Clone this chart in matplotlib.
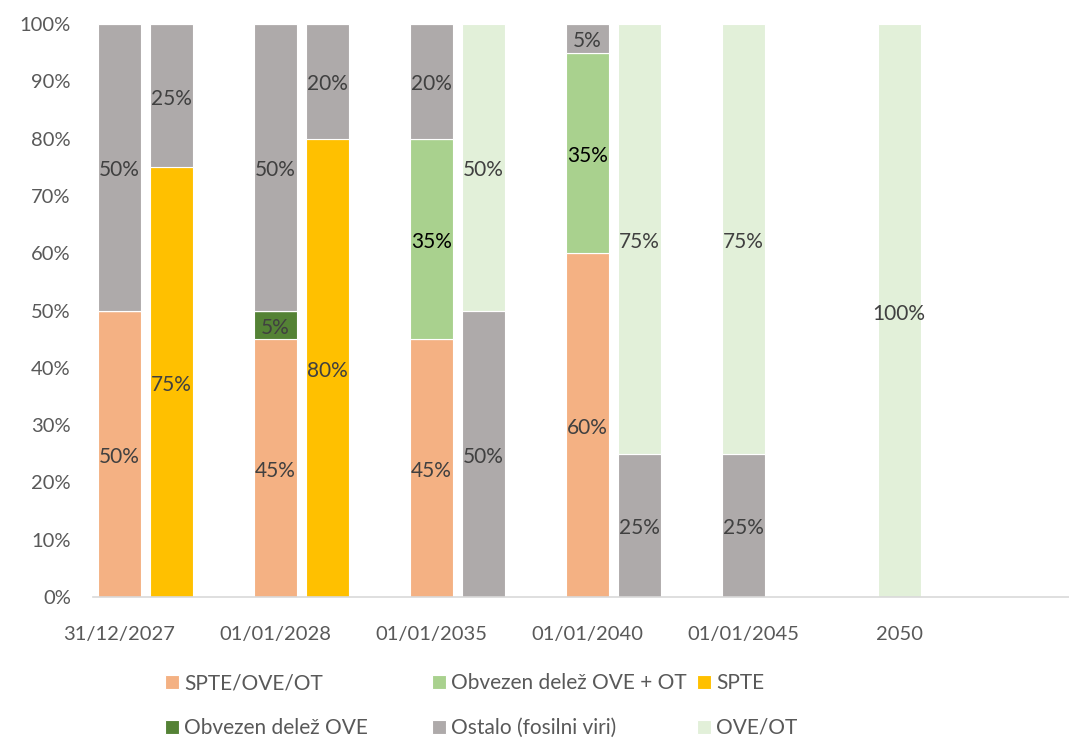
import numpy as np
import matplotlib
matplotlib.use("Agg")
import matplotlib.pyplot as plt
from matplotlib.transforms import offset_copy

plt.rcParams['font.family'] = ['Lato', 'DejaVu Sans']

dates = ['31/12/2027', '01/01/2028', '01/01/2035', '01/01/2040', '01/01/2045', '2050']

series = ['SPTE/OVE/OT', 'Obvezen delež OVE', 'Obvezen delež OVE + OT',
          'SPTE', 'Ostalo (fosilni viri)', 'OVE/OT']
colors = ['#F4B183', '#548235', '#A9D18E', '#FFC000', '#AEAAAA', '#E2F0D9']

# left bar of each date (percent)
left_spte_ove_ot = [50, 45, 45, 60, 0, 0]
left_obv_ove = [0, 5, 0, 0, 0, 0]
left_obv_ove_ot = [0, 0, 35, 35, 0, 0]
left_spte = [0, 0, 0, 0, 0, 0]
left_ostalo = [50, 50, 20, 5, 25, 0]
left_ove_ot = [0, 0, 0, 0, 75, 100]

# right bar of each date (percent)
right_spte_ove_ot = [0, 0, 0, 0, 0, 0]
right_obv_ove = [0, 0, 0, 0, 0, 0]
right_obv_ove_ot = [0, 0, 0, 0, 0, 0]
right_spte = [75, 80, 0, 0, 0, 0]
right_ostalo = [25, 20, 50, 25, 0, 0]
right_ove_ot = [0, 0, 50, 75, 0, 0]

left = [left_spte_ove_ot, left_obv_ove, left_obv_ove_ot, left_spte, left_ostalo, left_ove_ot]
right = [right_spte_ove_ot, right_obv_ove, right_obv_ove_ot, right_spte, right_ostalo, right_ove_ot]

fig = plt.figure(figsize=(10.69, 7.39), dpi=100)
ax = fig.add_axes([93 / 1069, 1 - 597 / 739, (1069 - 93) / 1069, (597 - 24) / 739])

x = np.arange(len(dates))
w = 0.276
xl = x + 0.17
xr = x + 0.504

txt_tr = offset_copy(ax.transData, fig=fig, y=-3, units='dots')
label_color = {2: 'black'}
handles = []
for stack, pos in [(left, xl), (right, xr)]:
    bottom = np.zeros(len(dates))
    for k, vals in enumerate(stack):
        vals = np.array(vals, dtype=float)
        bars = ax.bar(pos, vals, w, bottom=bottom, color=colors[k],
                      edgecolor='white', linewidth=0.8, zorder=2)
        if stack is left:
            handles.append(bars)
        for xi, v, b in zip(pos, vals, bottom):
            if v > 0:
                ax.text(xi, b + v / 2, f'{int(v)}%', ha='center', va='center',
                        fontsize=15, color=label_color.get(k, '#404040'),
                        zorder=3, transform=txt_tr)
        bottom += vals

ax.set_xlim(0, 6.26)
ax.set_ylim(0, 100)
ax.set_yticks(np.arange(0, 101, 10))
ax.set_yticklabels([f'{v}%' for v in range(0, 101, 10)])
ax.set_xticks(xl)
ax.set_xticklabels(dates)
ax.tick_params(axis='both', length=0, labelsize=14.5, labelcolor='#595959')
ax.tick_params(axis='x', pad=21)
ax.tick_params(axis='y', pad=16)
for s in ['top', 'right', 'left']:
    ax.spines[s].set_visible(False)
ax.spines['bottom'].set_color('#D9D9D9')
ax.spines['bottom'].set_linewidth(1.2)

# legend: 3 columns x 2 rows, equal column widths
leg_x = [165, 432, 697]
leg_y = [683, 728]
leg_pos = {0: (0, 0), 2: (1, 0), 3: (2, 0), 1: (0, 1), 4: (1, 1), 5: (2, 1)}
for k, (c, r) in leg_pos.items():
    lg = fig.legend([handles[k]], [series[k]], loc='center left',
                    bbox_to_anchor=(leg_x[c] / 1069, 1 - leg_y[r] / 739),
                    frameon=False, fontsize=15, labelcolor='#595959',
                    handlelength=0.67, handleheight=0.67, handletextpad=0.25,
                    borderpad=0, borderaxespad=0)

fig.savefig('out.png', dpi=100)
